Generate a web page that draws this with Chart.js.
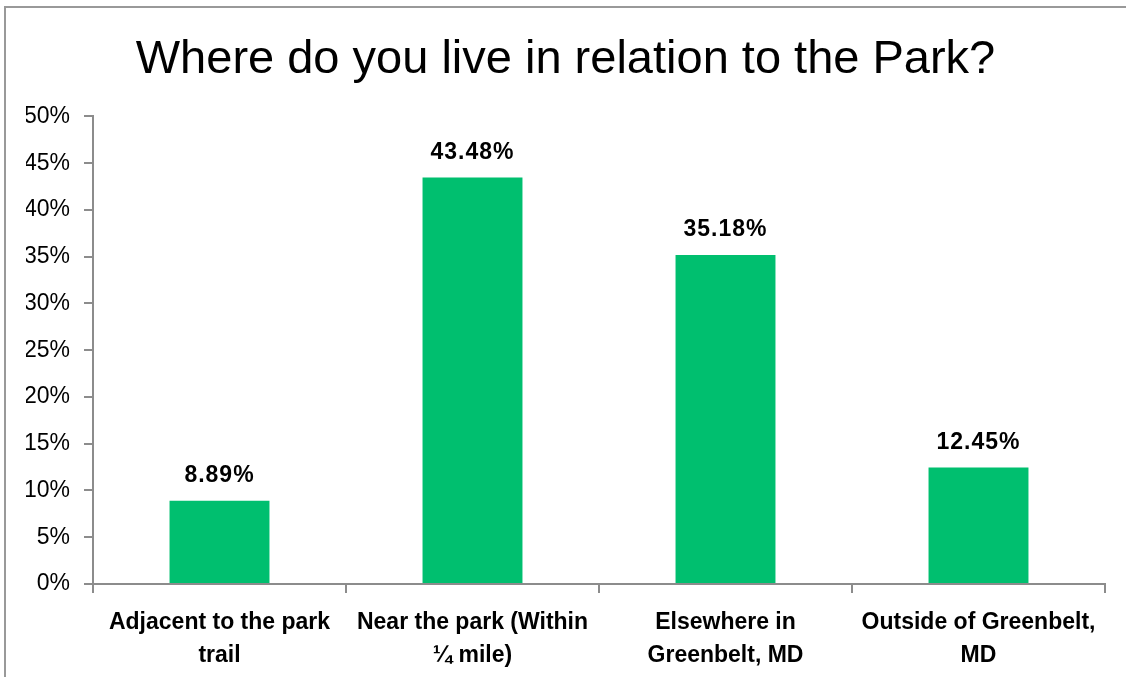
<!DOCTYPE html>
<html>
<head>
<meta charset="utf-8">
<script src="https://cdn.jsdelivr.net/npm/chart.js@4"></script>
<style>
  html, body { margin: 0; padding: 0; background: #fff; }
  #wrap { width: 1126px; height: 677px; }
</style>
</head>
<body>
<div id="wrap"><canvas id="parkChart" width="1126" height="677"></canvas></div>
<script>
const categories = [
  ["Adjacent to the park", "trail"],
  ["Near the park (Within", "¼ mile)"],
  ["Elsewhere in", "Greenbelt, MD"],
  ["Outside of Greenbelt,", "MD"],
];
const shares = [8.89, 43.48, 35.18, 12.45];
const yTicks = [0, 5, 10, 15, 20, 25, 30, 35, 40, 45, 50];

const axisGray = "#8c8c8c";

// frame around the chart + bar value labels
Chart.register({
  id: "frameAndLabels",
  beforeDraw: function (chart) {
    const ctx = chart.ctx;
    ctx.save();
    ctx.strokeStyle = "#999";
    ctx.lineWidth = 2;
    ctx.beginPath();
    ctx.moveTo(5, 700);
    ctx.lineTo(5, 7);
    ctx.lineTo(1126, 7);
    ctx.stroke();
    ctx.restore();
  },
  afterDatasetsDraw: function (chart) {
    const ctx = chart.ctx;
    const meta = chart.getDatasetMeta(0);
    ctx.save();
    ctx.font = "bold 23px 'Liberation Sans', Arial, sans-serif";
    ctx.fillStyle = "#000";
    ctx.textAlign = "center";
    ctx.textBaseline = "middle";
    if ("letterSpacing" in ctx) ctx.letterSpacing = "1px";
    meta.data.forEach((bar, i) => {
      ctx.fillText(shares[i].toFixed(2) + "%", bar.x, bar.y - 25);
    });
    ctx.restore();
  },
});

var ctx = document.getElementById("parkChart").getContext("2d");
var parkChart = new Chart(ctx, {
  type: "bar",
  data: {
    labels: categories,
    datasets: [
      {
        data: shares,
        backgroundColor: "#00bf6f",
        borderWidth: 0,
        barPercentage: 0.395,
        categoryPercentage: 1,
      },
    ],
  },
  options: {
    responsive: false,
    animation: false,
    layout: { padding: { left: 26, right: 21, top: 0, bottom: 0 } },
    scales: {
      y: {
        min: 0,
        max: 50,
        afterBuildTicks: (scale) => {
          scale.ticks = yTicks.map((v) => ({ value: v }));
        },
        afterFit: (scale) => {
          scale.width = 67;
        },
        ticks: {
          callback: (v) => v + "%",
          color: "#000",
          padding: 14,
          font: { family: "'Liberation Sans', Arial, sans-serif", size: 23 },
        },
        grid: {
          drawOnChartArea: false,
          tickLength: 9,
          color: axisGray,
          lineWidth: 2,
        },
        border: { color: axisGray, width: 2 },
      },
      x: {
        afterFit: (scale) => {
          scale.height = 93;
        },
        ticks: {
          color: "#000",
          padding: 14,
          maxRotation: 0,
          autoSkip: false,
          font: {
            family: "'Liberation Sans', Arial, sans-serif",
            size: 23,
            weight: "bold",
            lineHeight: 1.4,
          },
        },
        grid: {
          drawOnChartArea: false,
          offset: true,
          tickLength: 9,
          color: axisGray,
          lineWidth: 2,
        },
        border: { color: axisGray, width: 2 },
      },
    },
    plugins: {
      legend: { display: false },
      tooltip: { enabled: false },
      title: {
        display: true,
        text: "Where do you live in relation to the Park?",
        color: "#000",
        font: { family: "'Liberation Sans', Arial, sans-serif", size: 47, weight: "normal", lineHeight: 1.2 },
        padding: { top: 32, bottom: 28 },
      },
    },
  },
});
</script>
</body>
</html>
